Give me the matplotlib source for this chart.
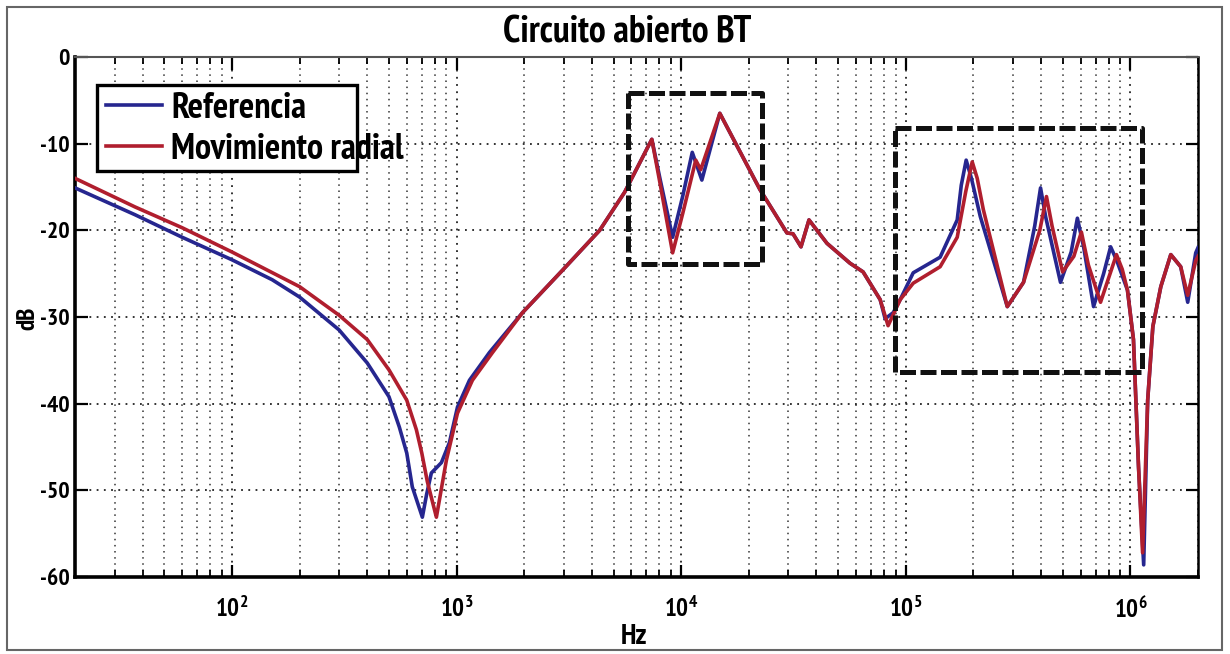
import matplotlib
matplotlib.use("Agg")
import matplotlib.pyplot as plt
from matplotlib.patches import Rectangle

# fonts: narrow bold, like the matlab export
FONT = ['PT Sans Narrow', 'Roboto Condensed', 'Liberation Sans', 'DejaVu Sans']
plt.rcParams['font.family'] = FONT
plt.rcParams['font.weight'] = 'bold'
plt.rcParams['axes.unicode_minus'] = False
plt.rcParams['mathtext.fontset'] = 'custom'
plt.rcParams['mathtext.rm'] = 'PT Sans Narrow:bold'
plt.rcParams['mathtext.bf'] = 'PT Sans Narrow:bold'

TITLE = "Circuito abierto BT"
X_LABEL = "Hz"
Y_LABEL = "dB"
LABEL_REF = "Referencia"
LABEL_RAD = "Movimiento radial"

# Referencia (blue)
freq_ref = [20, 37, 60, 100, 151, 200, 300, 400, 500, 556, 600, 635, 704, 735,
            772, 856, 929, 1009, 1141, 1400, 1965, 2963, 4335, 5600, 7400, 8040,
            9160, 10170, 11200, 12360, 14860, 22430, 29570, 31470, 34150, 37070,
            44580, 56480, 64570, 76920, 80900, 87900, 94400, 107900, 142200,
            169400, 176600, 185700, 196000, 214600, 283100, 334300, 375000,
            398100, 420000, 488400, 545000, 580700, 620000, 685500, 760000,
            816600, 870000, 970500, 1032000, 1087000, 1146000, 1194000, 1259000,
            1366000, 1513000, 1675000, 1800000, 1954000, 2000000]
db_ref = [-15.1, -18.2, -20.8, -23.4, -25.7, -27.7, -31.5, -35.3, -39.2, -42.7,
          -45.7, -49.6, -53.1, -50.5, -48.0, -46.8, -44.5, -40.4, -37.3, -34.1,
          -29.5, -24.6, -20.0, -15.6, -9.5, -14.0, -20.8, -16.0, -11.0, -14.2,
          -6.5, -15.3, -20.3, -20.4, -21.9, -18.8, -21.5, -23.8, -24.8, -28.0,
          -30.2, -29.5, -28.0, -24.9, -23.1, -18.8, -14.8, -11.9, -14.0, -18.4,
          -28.8, -26.0, -19.5, -15.1, -18.5, -26.0, -22.5, -18.6, -22.0, -28.8,
          -25.0, -21.9, -23.5, -26.9, -32.6, -47.3, -58.6, -39.6, -31.1, -26.5,
          -22.8, -24.2, -28.3, -22.6, -22.0]

# Movimiento radial (red)
freq_rad = [20, 37, 60, 100, 200, 300, 400, 500, 600, 662, 700, 741, 813, 901,
            1009, 1176, 1445, 1965, 2963, 4335, 5600, 7400, 8040, 9160, 10170,
            11610, 12220, 14860, 22430, 29570, 31470, 34150, 37070, 44580, 56480,
            64570, 76920, 83400, 94400, 107900, 142200, 169400, 185000, 197600,
            208000, 221400, 283100, 334300, 395000, 423000, 448000, 499000,
            560000, 605100, 650000, 736300, 800000, 867000, 920000, 970500,
            1032000, 1087000, 1133000, 1194000, 1259000, 1366000, 1513000,
            1675000, 1800000, 1954000, 2000000]
db_rad = [-14.0, -17.3, -19.7, -22.5, -26.5, -29.8, -32.6, -36.1, -39.6, -43.0,
          -45.7, -49.0, -53.1, -46.5, -41.1, -37.3, -34.1, -29.5, -24.6, -20.0,
          -15.6, -9.5, -14.5, -22.6, -18.0, -11.9, -13.0, -6.5, -15.3, -20.3,
          -20.4, -21.9, -18.8, -21.5, -23.8, -24.8, -28.0, -31.0, -28.0, -26.1,
          -24.2, -20.8, -15.5, -12.1, -14.0, -17.6, -28.8, -26.0, -20.0, -16.1,
          -19.5, -24.8, -23.0, -20.2, -24.0, -28.3, -25.5, -22.8, -24.5, -26.9,
          -32.6, -47.3, -57.2, -39.6, -31.1, -26.5, -22.8, -24.2, -27.5, -23.5,
          -23.0]

# highlighted regions (f_min, f_max, db_low, db_high)
box_low = (5780, 22900, -23.9, -4.15)
box_high = (89700, 1130000, -36.4, -8.2)

x_ticks = [1e2, 1e3, 1e4, 1e5, 1e6]
x_ticklabels = [r'$\mathregular{10^{2}}$', r'$\mathregular{10^{3}}$', r'$\mathregular{10^{4}}$',
                r'$\mathregular{10^{5}}$', r'$\mathregular{10^{6}}$']
y_ticks = [0, -10, -20, -30, -40, -50, -60]

W, H = 1230, 654


def draw_box(ax, box):
    f0, f1, y0, y1 = box
    ax.plot([f0, f1, f1, f0, f0], [y1, y1, y0, y0, y1], color='#111111', lw=3.6,
            linestyle=(0, (3.2, 0.9)), zorder=5, solid_capstyle='butt')


def main():
    fig = plt.figure(figsize=(W / 100, H / 100), dpi=100)
    ax = fig.add_axes([75 / W, 1 - 577 / H, 1123 / W, 520 / H])

    ax.semilogx(freq_ref, db_ref, color='#26268f', lw=2.6, label=LABEL_REF, zorder=3)
    ax.semilogx(freq_rad, db_rad, color='#b01e2e', lw=2.6, label=LABEL_RAD, zorder=4)

    draw_box(ax, box_low)
    draw_box(ax, box_high)

    ax.set_xlim(20, 2e6)
    ax.set_ylim(-60, 0)
    ax.set_xticks(x_ticks)
    ax.set_xticklabels(x_ticklabels)
    ax.set_yticks(y_ticks)
    ax.set_yticklabels([str(v) for v in y_ticks])

    ax.grid(True, which='major', linestyle=(0, (1, 3)), color='#222222', lw=1.3)
    ax.grid(True, which='minor', axis='x', linestyle=(0, (1, 3)), color='#333333', lw=1.1)

    ax.tick_params(which='both', direction='in', top=True, right=True)
    ax.tick_params(which='major', length=9, width=1.6, labelsize=17)
    ax.tick_params(which='minor', length=5, width=1.3)
    ax.tick_params(axis='x', which='major', pad=14, labelsize=18)
    ax.tick_params(axis='y', which='major', pad=4)

    for side in ['left', 'bottom']:
        ax.spines[side].set_linewidth(2.6)
    ax.spines['right'].set_linewidth(1.8)
    ax.spines['top'].set_linewidth(1.5)
    ax.spines['top'].set_color('#555555')

    # legend frame is narrower than the second label, as in the original export
    ax.add_patch(Rectangle((97 / W, 1 - 171 / H), 260 / W, 86 / H, transform=fig.transFigure,
                           facecolor='white', edgecolor='black', lw=2.4, zorder=6))
    leg = ax.legend(loc='upper left', bbox_to_anchor=(106 / W, 1 - 92 / H), bbox_transform=fig.transFigure,
                    borderaxespad=0, fontsize=26, handlelength=1.55, handletextpad=0.25,
                    labelspacing=0.22, borderpad=0, frameon=False)
    leg.set_zorder(7)

    fig.text(627 / W, 1 - 33 / H, TITLE, ha='center', va='center', fontsize=27, fontweight='bold')
    fig.text(28 / W, 1 - 318 / H, Y_LABEL, ha='center', va='center', rotation=90,
             fontsize=18, fontweight='bold')
    fig.text(634 / W, 1 - 637 / H, X_LABEL, ha='center', va='center', fontsize=21, fontweight='bold')

    # outer frame of the picture
    fig.patches.append(Rectangle((7 / W, 4 / H), 1215 / W, 643 / H, transform=fig.transFigure,
                                 fill=False, edgecolor='#666666', lw=1.5))

    fig.savefig("out.png", dpi=100)
    plt.close(fig)


if __name__ == '__main__':
    main()
